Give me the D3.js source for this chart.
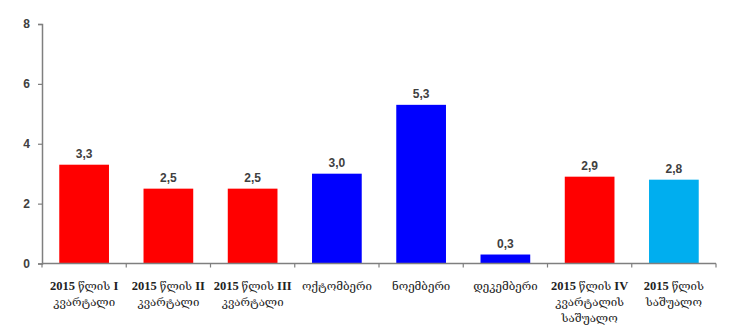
<!DOCTYPE html>
<html>
<head>
<meta charset="utf-8">
<script src="https://cdn.jsdelivr.net/npm/d3@7"></script>
<style>
  html, body { margin: 0; padding: 0; background: #fff; }
  svg { display: block; }
</style>
</head>
<body>
<svg id="chart" width="730" height="325"></svg>
<script>
// Categories (each label split into lines), values and bar colours
const categories = [
  ["2015 წლის I", "კვარტალი"],
  ["2015 წლის II", "კვარტალი"],
  ["2015 წლის III", "კვარტალი"],
  ["ოქტომბერი"],
  ["ნოემბერი"],
  ["დეკემბერი"],
  ["2015 წლის IV", "კვარტალის", "საშუალო"],
  ["2015 წლის", "საშუალო"]
];
const values = [3.3, 2.5, 2.5, 3.0, 5.3, 0.3, 2.9, 2.8];
const colors = ["#ff0000", "#ff0000", "#ff0000", "#0000ff", "#0000ff", "#0000ff", "#ff0000", "#00aeef"];
const yTicks = [0, 2, 4, 6, 8];

const svg = d3.select("#chart");
const plot = { left: 42, right: 716, top: 24, bottom: 263.5 };

const x = d3.scaleBand()
  .domain(d3.range(categories.length))
  .range([plot.left, plot.right])
  .paddingInner(0.41)
  .paddingOuter(0.205);

const y = d3.scaleLinear().domain([0, 8]).range([plot.bottom, plot.top]);

const fmt = v => d3.format(".1f")(v).replace(".", ",");

// Bars
svg.append("g").selectAll("rect")
  .data(values)
  .join("rect")
  .attr("x", (d, i) => x(i))
  .attr("y", d => y(d))
  .attr("width", x.bandwidth())
  .attr("height", d => y(0) - y(d))
  .attr("fill", (d, i) => colors[i]);

// Value labels above bars
svg.append("g").selectAll("text")
  .data(values)
  .join("text")
  .attr("x", (d, i) => x(i) + x.bandwidth() / 2)
  .attr("y", d => y(d) - 7)
  .attr("text-anchor", "middle")
  .attr("font-family", "Liberation Sans, Arial, sans-serif")
  .attr("font-weight", "bold")
  .attr("font-size", 12)
  .attr("fill", "#404040")
  .text(fmt);

// Y axis
const yAxis = svg.append("g")
  .attr("transform", `translate(${plot.left},0)`)
  .call(d3.axisLeft(y).tickValues(yTicks).tickSize(4).tickPadding(8).tickFormat(d3.format("d")));
yAxis.select(".domain").attr("stroke", "#7f7f7f").attr("stroke-width", 1.5);
yAxis.selectAll(".tick line").attr("stroke", "#7f7f7f").attr("stroke-width", 1.2);
yAxis.selectAll(".tick text")
  .attr("font-family", "Liberation Sans, Arial, sans-serif")
  .attr("font-weight", "bold")
  .attr("font-size", 12)
  .attr("fill", "#404040");

// X axis with tick marks at category boundaries
const xBase = svg.append("g");
xBase.append("line")
  .attr("x1", plot.left).attr("x2", plot.right)
  .attr("y1", y(0)).attr("y2", y(0))
  .attr("stroke", "#7f7f7f").attr("stroke-width", 1.5);
const boundaries = d3.range(categories.length + 1)
  .map(i => plot.left + i * (plot.right - plot.left) / categories.length);
xBase.selectAll("line.b")
  .data(boundaries)
  .join("line")
  .attr("class", "b")
  .attr("x1", d => d).attr("x2", d => d)
  .attr("y1", y(0)).attr("y2", y(0) + 4)
  .attr("stroke", "#7f7f7f").attr("stroke-width", 1.2);

// Category labels: Latin words (year, quarter numeral) bold serif, Georgian words regular
const georgian = /[\u10A0-\u10FF]/;
const lab = svg.append("g").selectAll("text")
  .data(categories)
  .join("text")
  .attr("text-anchor", "middle")
  .attr("font-family", "Liberation Serif, DejaVu Serif, serif")
  .attr("font-size", 12)
  .attr("fill", "#222");
lab.each(function(lines, i) {
  const t = d3.select(this);
  lines.forEach((s, j) => {
    const words = s.split(" ");
    words.forEach((w, k) => {
      const span = t.append("tspan")
        .text((k > 0 ? " " : "") + w)
        .attr("font-weight", georgian.test(w) ? "normal" : "bold")
        .attr("font-size", georgian.test(w) ? 11.5 : 12.5);
      if (k === 0) {
        span.attr("x", x(i) + x.bandwidth() / 2).attr("y", 290 + j * 16);
      }
    });
  });
});
</script>
</body>
</html>
